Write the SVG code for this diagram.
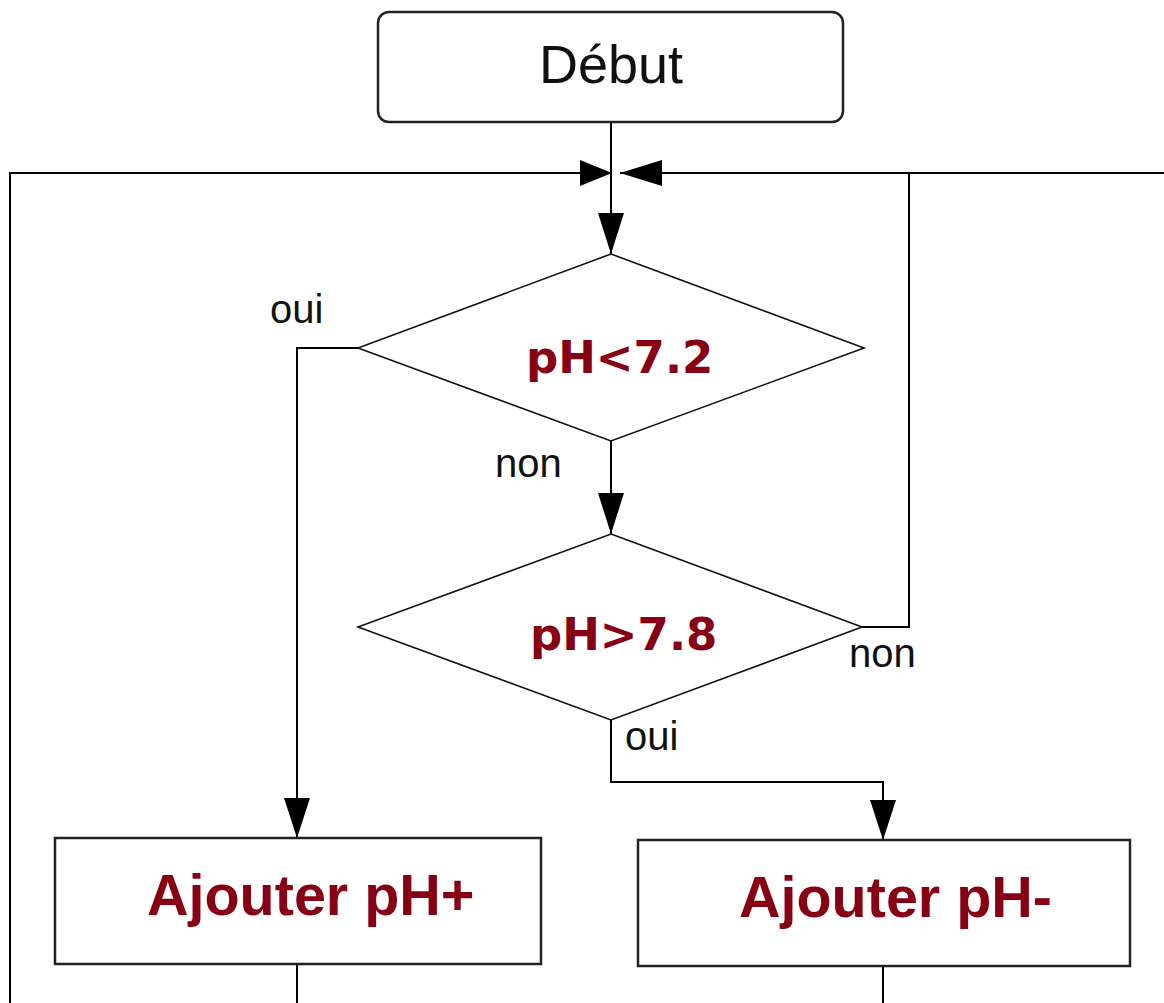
<svg xmlns="http://www.w3.org/2000/svg" width="1164" height="1003" viewBox="0 0 1164 1003">
<style>
.box{fill:#fff;stroke:#222;stroke-width:2.5}
.dia{fill:#fff;stroke:#111;stroke-width:1.6}
.ln{fill:none;stroke:#000;stroke-width:2}
.ah{fill:#000;stroke:none}
.lbl{font-family:"Liberation Sans",Arial,sans-serif;font-size:40px;fill:#111}
.cond{font-family:"DejaVu Sans",Verdana,sans-serif;font-weight:bold;font-size:45px;fill:#870014}
.act{font-family:"Liberation Sans",Arial,sans-serif;font-weight:bold;font-size:57.5px;fill:#870014}
</style>
<rect width="1164" height="1003" fill="#fff"/>
<g id="connectors">
<polyline class="ln" points="611,122 611,254"/>
<polyline class="ln" points="10,1003 10,173 612,173"/>
<polyline class="ln" points="1164,173 620,173"/>
<polyline class="ln" points="862,627 909,627 909,173"/>
<polyline class="ln" points="611,440 611,534"/>
<polyline class="ln" points="358,348 297,348 297,838"/>
<polyline class="ln" points="611,720 611,782 883,782 883,840"/>
<polyline class="ln" points="297,964 297,1003"/>
<polyline class="ln" points="883,966 883,1003"/>
<polygon class="ah" points="612,173 580,160 580,186"/>
<polygon class="ah" points="620,173 662,160 662,186"/>
<polygon class="ah" points="611,254 598,213 624,213"/>
<polygon class="ah" points="611,534 598,493 624,493"/>
<polygon class="ah" points="297,838 284,798 310,798"/>
<polygon class="ah" points="883,840 870,800 896,800"/>
<text class="lbl" x="270" y="323">oui</text>
<text class="lbl" x="495" y="477">non</text>
<text class="lbl" x="849" y="667">non</text>
<text class="lbl" x="625" y="750">oui</text>
</g>
<g id="debut">
<rect class="box" x="378" y="12" width="465" height="110" rx="11"/>
<text x="611" y="83" text-anchor="middle" font-family="Liberation Sans, Arial, sans-serif" font-size="54" fill="#111">Début</text>
</g>
<g id="cond1">
<polygon class="dia" points="611,254 864,348 611,441 358,348"/>
<text class="cond" x="526" y="373">pH&lt;7.2</text>
</g>
<g id="cond2">
<polygon class="dia" points="611,534 862,627 611,720 358,627"/>
<text class="cond" x="530" y="650">pH&gt;7.8</text>
</g>
<g id="plus">
<rect class="box" x="55" y="838" width="486" height="126"/>
<text class="act" x="147" y="915">Ajouter pH+</text>
</g>
<g id="minus">
<rect class="box" x="638" y="840" width="492" height="126"/>
<text class="act" x="739" y="917">Ajouter pH-</text>
</g>
</svg>
